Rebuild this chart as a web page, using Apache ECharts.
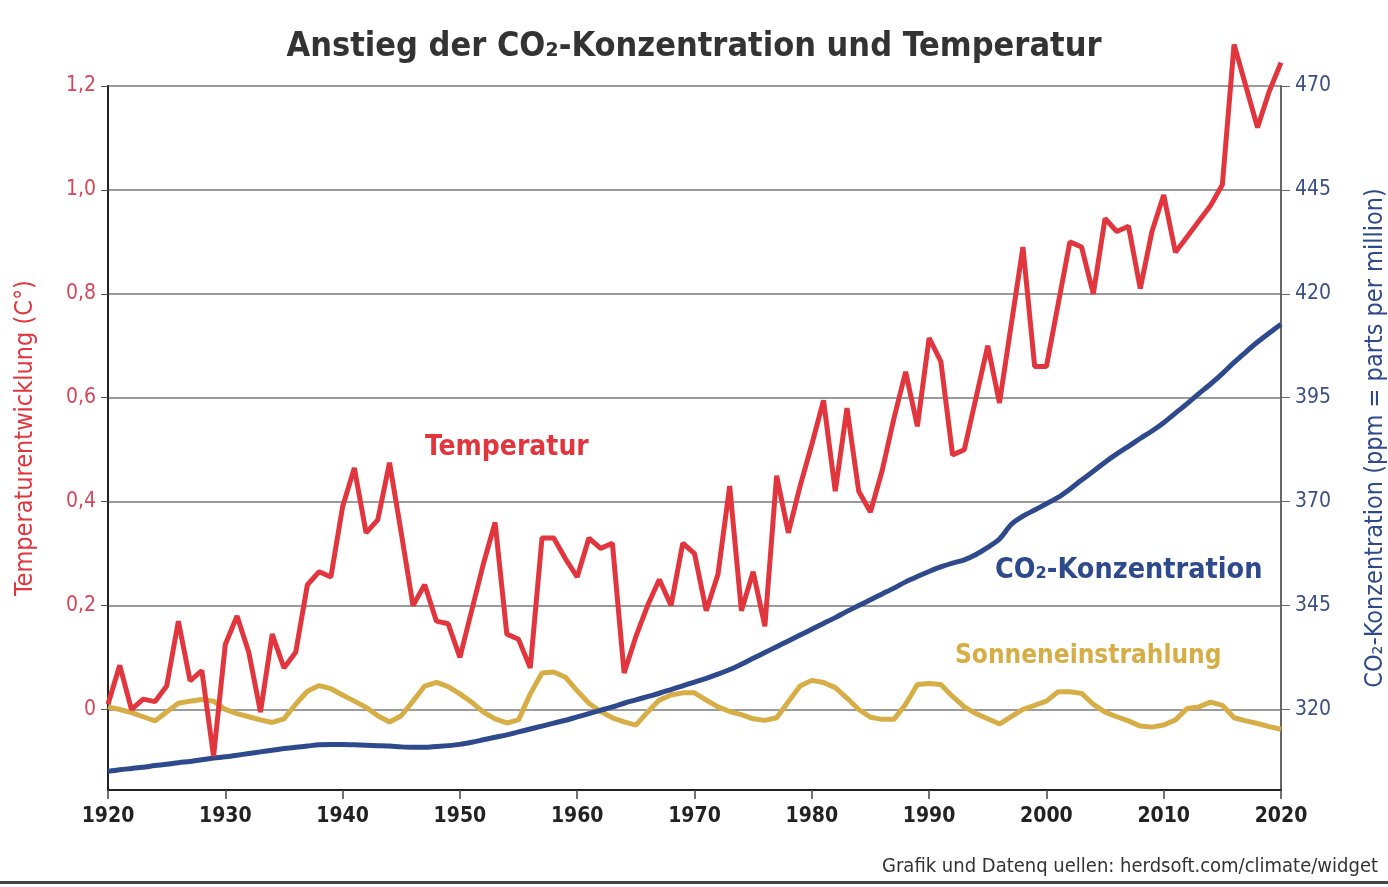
<!DOCTYPE html>
<html>
<head>
<meta charset="utf-8">
<title>Anstieg der CO2-Konzentration und Temperatur</title>
<script src="https://cdn.jsdelivr.net/npm/echarts@6/dist/echarts.min.js"></script>
<style>
  html, body { margin: 0; padding: 0; background: #fff; }
  #chart { width: 1388px; height: 887px; }
</style>
</head>
<body>
<div id="chart"></div>
<script>
// Jahre 1920 - 2020
var years = [
  1920, 1921, 1922, 1923, 1924, 1925, 1926, 1927, 1928, 1929,
  1930, 1931, 1932, 1933, 1934, 1935, 1936, 1937, 1938, 1939,
  1940, 1941, 1942, 1943, 1944, 1945, 1946, 1947, 1948, 1949,
  1950, 1951, 1952, 1953, 1954, 1955, 1956, 1957, 1958, 1959,
  1960, 1961, 1962, 1963, 1964, 1965, 1966, 1967, 1968, 1969,
  1970, 1971, 1972, 1973, 1974, 1975, 1976, 1977, 1978, 1979,
  1980, 1981, 1982, 1983, 1984, 1985, 1986, 1987, 1988, 1989,
  1990, 1991, 1992, 1993, 1994, 1995, 1996, 1997, 1998, 1999,
  2000, 2001, 2002, 2003, 2004, 2005, 2006, 2007, 2008, 2009,
  2010, 2011, 2012, 2013, 2014, 2015, 2016, 2017, 2018, 2019,
  2020
]

// Temperaturentwicklung (°C)
var temperatur = [
  0.01, 0.085, 0.0, 0.02, 0.015, 0.045, 0.17, 0.055, 0.075, -0.09,
  0.125, 0.18, 0.11, -0.005, 0.145, 0.08, 0.11, 0.24, 0.265, 0.255,
  0.39, 0.465, 0.34, 0.365, 0.475, 0.34, 0.2, 0.24, 0.17, 0.165,
  0.1, 0.19, 0.28, 0.36, 0.145, 0.135, 0.08, 0.33, 0.33, 0.29,
  0.255, 0.33, 0.31, 0.32, 0.07, 0.14, 0.2, 0.25, 0.2, 0.32,
  0.3, 0.19, 0.26, 0.43, 0.19, 0.265, 0.16, 0.45, 0.34, 0.43,
  0.51, 0.595, 0.42, 0.58, 0.42, 0.38, 0.46, 0.56, 0.65, 0.545,
  0.715, 0.67, 0.49, 0.5, 0.6, 0.7, 0.59, 0.74, 0.89, 0.66,
  0.66, 0.78, 0.9, 0.89, 0.8, 0.945, 0.92, 0.93, 0.81, 0.92,
  0.99, 0.88, 0.91, 0.94, 0.97, 1.01, 1.28, 1.2, 1.12, 1.19,
  1.245
]

// CO2-Konzentration (ppm)
var co2 = [
  305.1, 305.5, 305.8, 306.1, 306.5, 306.8, 307.2, 307.5, 307.9, 308.3,
  308.6, 309.0, 309.4, 309.8, 310.2, 310.6, 310.9, 311.2, 311.5, 311.6,
  311.6, 311.5, 311.4, 311.3, 311.2, 311.0, 310.9, 310.9, 311.1, 311.3,
  311.6, 312.1, 312.7, 313.3, 313.9, 314.6, 315.3, 316.0, 316.7, 317.4,
  318.2, 319.0, 319.8, 320.6, 321.5, 322.3, 323.1, 323.9, 324.8, 325.7,
  326.6, 327.5, 328.5, 329.6, 330.9, 332.3, 333.7, 335.1, 336.5, 337.9,
  339.3, 340.7, 342.1, 343.6, 345.0, 346.4, 347.8, 349.2, 350.7, 352.0,
  353.2, 354.3, 355.2, 356.0, 357.3, 359.0, 361.0, 364.5, 366.5, 368.0,
  369.5, 371.0, 373.0, 375.2, 377.3, 379.5, 381.5, 383.3, 385.2, 387.0,
  389.0, 391.3, 393.6, 396.0, 398.3, 400.8, 403.5, 406.0, 408.4, 410.6,
  412.7
]

// Sonneneinstrahlung (relativ, auf Temperaturachse)
var sonne = [
  0.005, 0.0, -0.006, -0.014, -0.022, -0.005, 0.012, 0.016, 0.019, 0.016,
  0.0, -0.008, -0.014, -0.02, -0.025, -0.018, 0.01, 0.035, 0.046, 0.04,
  0.028, 0.016, 0.004, -0.012, -0.024, -0.012, 0.016, 0.045, 0.052, 0.044,
  0.03, 0.014, -0.005, -0.018, -0.026, -0.02, 0.03, 0.07, 0.072, 0.062,
  0.036, 0.012, -0.004, -0.016, -0.024, -0.03, -0.005, 0.018, 0.028, 0.032,
  0.032, 0.018, 0.005, -0.004, -0.01, -0.018, -0.021, -0.016, 0.015, 0.045,
  0.056, 0.052, 0.042, 0.022, 0.0, -0.015, -0.019, -0.019, 0.01, 0.048,
  0.05, 0.048, 0.025, 0.005, -0.008, -0.018, -0.028, -0.014, 0.0, 0.008,
  0.016, 0.034, 0.034, 0.031, 0.01, -0.005, -0.014, -0.022, -0.032, -0.034,
  -0.03, -0.02, 0.002, 0.005, 0.014, 0.008, -0.016, -0.022, -0.027, -0.033,
  -0.038
]

var tempTicks = [0, 0.2, 0.4, 0.6, 0.8, 1.0, 1.2]
var co2Ticks = [320, 345, 370, 395, 420, 445, 470]

var RED = '#e2363f'
var BLUE = '#2e4a8c'
var GOLD = '#d6ae45'
var FONT = '"DejaVu Sans Condensed", "Liberation Sans Narrow", sans-serif'

function pairs(values) {
  return years.map(function (y, i) { return [y, values[i]] })
}

var chart = echarts.init(document.getElementById('chart'))

chart.setOption({
  animation: false,
  backgroundColor: '#fff',
  title: {
    text: 'Anstieg der CO₂-Konzentration und Temperatur',
    left: 'center',
    top: 25,
    textStyle: { fontFamily: FONT, fontSize: 34, fontWeight: 'bold', color: '#333' }
  },
  grid: {
    left: 108,
    right: 107,
    top: 86,
    bottom: 97,
    outerBoundsMode: 'none'
  },
  xAxis: {
    type: 'value',
    min: 1920,
    max: 2020,
    interval: 10,
    axisLine: { show: true, onZero: false, lineStyle: { color: '#222', width: 2 } },
    axisTick: { show: true, length: 9, lineStyle: { color: '#444', width: 1.5 } },
    splitLine: { show: false },
    axisLabel: {
      margin: 16,
      fontFamily: FONT,
      fontSize: 21,
      fontWeight: 'bold',
      color: '#222',
      formatter: function (v) { return String(v) }
    }
  },
  yAxis: [
    {
      type: 'value',
      min: -0.155,
      max: 1.2,
      position: 'left',
      name: 'Temperaturentwicklung (C°)',
      nameLocation: 'middle',
      nameRotate: 90,
      nameGap: 70,
      nameTextStyle: { fontFamily: FONT, fontSize: 25, color: RED },
      axisLine: { show: true, onZero: false, lineStyle: { color: '#222', width: 2 } },
      axisTick: {
        show: true,
        length: 7,
        customValues: tempTicks,
        lineStyle: { color: '#555' }
      },
      axisLabel: {
        customValues: tempTicks,
        margin: 12,
        fontFamily: FONT,
        fontSize: 21,
        color: '#d6475a',
        formatter: function (v) {
          return v === 0 ? '0' : v.toFixed(1).replace('.', ',')
        }
      },
      splitLine: { show: true, lineStyle: { color: '#7a7a7a', width: 1.5 } }
    },
    {
      type: 'value',
      min: 300.625,
      max: 470,
      position: 'right',
      name: 'CO₂-Konzentration (ppm = parts per million)',
      nameLocation: 'middle',
      nameRotate: 90,
      nameGap: 82,
      nameTextStyle: { fontFamily: FONT, fontSize: 25, color: BLUE },
      axisLine: { show: true, onZero: false, lineStyle: { color: '#666', width: 2 } },
      axisTick: {
        show: true,
        length: 9,
        customValues: co2Ticks,
        lineStyle: { color: '#666' }
      },
      axisLabel: {
        customValues: co2Ticks,
        margin: 14,
        fontFamily: FONT,
        fontSize: 21,
        color: '#3b4f86'
      },
      splitLine: { show: false }
    }
  ],
  series: [
    {
      name: 'Sonneneinstrahlung',
      type: 'line',
      yAxisIndex: 0,
      data: pairs(sonne),
      showSymbol: false,
      clip: false,
      lineStyle: { color: GOLD, width: 5 },
      z: 2
    },
    {
      name: 'CO₂-Konzentration',
      type: 'line',
      yAxisIndex: 1,
      data: pairs(co2),
      showSymbol: false,
      smooth: 0.3,
      clip: false,
      lineStyle: { color: BLUE, width: 5 },
      z: 3
    },
    {
      name: 'Temperatur',
      type: 'line',
      yAxisIndex: 0,
      data: pairs(temperatur),
      showSymbol: false,
      clip: false,
      lineStyle: { color: RED, width: 5 },
      z: 4
    }
  ],
  graphic: [
    {
      type: 'text',
      left: 425,
      top: 434,
      style: { text: 'Temperatur', fontFamily: FONT, fontSize: 28, fontWeight: 'bold', fill: RED }
    },
    {
      type: 'text',
      left: 995,
      top: 556,
      style: { text: 'CO₂-Konzentration', fontFamily: FONT, fontSize: 28.5, fontWeight: 'bold', fill: BLUE }
    },
    {
      type: 'text',
      left: 955,
      top: 643,
      style: { text: 'Sonneneinstrahlung', fontFamily: FONT, fontSize: 26, fontWeight: 'bold', fill: GOLD }
    },
    {
      type: 'text',
      right: 10,
      top: 857,
      style: {
        text: 'Grafik und Datenq uellen: herdsoft.com/climate/widget',
        fontFamily: FONT,
        fontSize: 20,
        fill: '#333'
      }
    },
    {
      type: 'rect',
      left: 0,
      top: 881,
      shape: { width: 1388, height: 3 },
      style: { fill: '#444' }
    }
  ]
})
</script>
</body>
</html>
